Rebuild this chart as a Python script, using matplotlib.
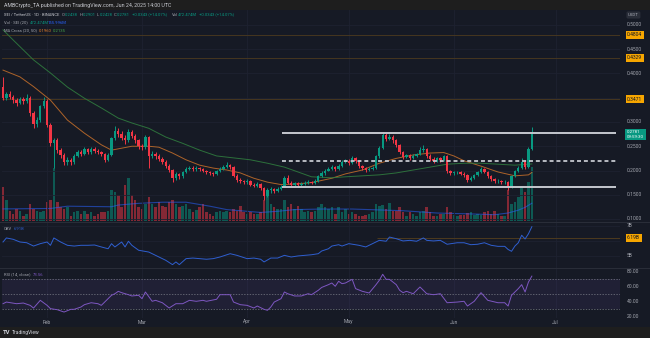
import matplotlib
matplotlib.use("Agg")
import matplotlib.pyplot as plt
from matplotlib.lines import Line2D
import numpy as np
import pandas as pd

plt.rcParams['font.family'] = ['Roboto', 'DejaVu Sans']

# ---- data (SEI/USDT daily, Binance) ----
start = pd.Timestamp('2025-01-19')
open0 = 0.372
close = [0.350, 0.358, 0.352, 0.346, 0.340, 0.347, 0.343, 0.350, 0.318, 0.296,
         0.305, 0.332, 0.344, 0.294, 0.256, 0.262, 0.242, 0.232, 0.218, 0.222,
         0.217, 0.230, 0.238, 0.234, 0.244, 0.238, 0.245, 0.241, 0.238, 0.233,
         0.222, 0.232, 0.266, 0.282, 0.276, 0.268, 0.262, 0.280, 0.272, 0.262,
         0.250, 0.248, 0.270, 0.230, 0.234, 0.229, 0.224, 0.218, 0.210, 0.201,
         0.184, 0.192, 0.188, 0.197, 0.204, 0.206, 0.203, 0.206, 0.203, 0.199,
         0.196, 0.194, 0.192, 0.199, 0.204, 0.208, 0.211, 0.207, 0.189, 0.181,
         0.178, 0.176, 0.178, 0.171, 0.168, 0.172, 0.163, 0.148, 0.160, 0.161,
         0.158, 0.162, 0.167, 0.185, 0.175, 0.171, 0.174, 0.171, 0.173, 0.175,
         0.177, 0.175, 0.179, 0.188, 0.194, 0.200, 0.204, 0.207, 0.204, 0.210,
         0.218, 0.220, 0.216, 0.225, 0.219, 0.209, 0.205, 0.201, 0.204, 0.205,
         0.229, 0.247, 0.274, 0.265, 0.270, 0.262, 0.253, 0.239, 0.228, 0.231,
         0.226, 0.230, 0.234, 0.242, 0.245, 0.230, 0.224, 0.220, 0.225, 0.221,
         0.229, 0.198, 0.194, 0.196, 0.197, 0.193, 0.190, 0.180, 0.185, 0.190,
         0.197, 0.203, 0.197, 0.188, 0.182, 0.178, 0.179, 0.176, 0.177, 0.166,
         0.188, 0.198, 0.205, 0.218, 0.208, 0.2438, 0.2781]
high = [0.392, 0.362, 0.364, 0.356, 0.350, 0.351, 0.352, 0.357, 0.353, 0.322,
        0.310, 0.336, 0.352, 0.347, 0.298, 0.268, 0.266, 0.247, 0.236, 0.228,
        0.226, 0.233, 0.242, 0.242, 0.248, 0.247, 0.249, 0.248, 0.244, 0.241,
        0.236, 0.236, 0.270, 0.291, 0.288, 0.282, 0.274, 0.286, 0.284, 0.276,
        0.265, 0.255, 0.274, 0.272, 0.240, 0.238, 0.233, 0.228, 0.221, 0.214,
        0.204, 0.196, 0.195, 0.200, 0.208, 0.210, 0.209, 0.209, 0.208, 0.206,
        0.202, 0.199, 0.197, 0.202, 0.207, 0.212, 0.218, 0.214, 0.209, 0.192,
        0.184, 0.181, 0.182, 0.180, 0.174, 0.176, 0.174, 0.166, 0.163, 0.166,
        0.164, 0.165, 0.170, 0.188, 0.190, 0.178, 0.177, 0.176, 0.176, 0.178,
        0.180, 0.179, 0.183, 0.191, 0.198, 0.203, 0.207, 0.211, 0.209, 0.213,
        0.221, 0.224, 0.223, 0.229, 0.227, 0.221, 0.212, 0.207, 0.207, 0.209,
        0.232, 0.251, 0.278, 0.278, 0.276, 0.273, 0.265, 0.255, 0.241, 0.235,
        0.234, 0.233, 0.237, 0.248, 0.252, 0.247, 0.233, 0.227, 0.228, 0.228,
        0.232, 0.231, 0.201, 0.199, 0.200, 0.199, 0.196, 0.192, 0.188, 0.193,
        0.200, 0.207, 0.206, 0.199, 0.190, 0.184, 0.182, 0.181, 0.180, 0.179,
        0.191, 0.202, 0.209, 0.226, 0.221, 0.248, 0.2901]
low = [0.345, 0.346, 0.348, 0.340, 0.334, 0.337, 0.338, 0.340, 0.312, 0.288,
       0.290, 0.300, 0.328, 0.290, 0.250, 0.205, 0.236, 0.226, 0.212, 0.212,
       0.212, 0.214, 0.227, 0.230, 0.231, 0.235, 0.235, 0.237, 0.234, 0.229,
       0.218, 0.219, 0.230, 0.262, 0.270, 0.262, 0.255, 0.259, 0.266, 0.257,
       0.245, 0.243, 0.245, 0.205, 0.225, 0.224, 0.219, 0.213, 0.205, 0.196,
       0.176, 0.180, 0.183, 0.185, 0.194, 0.201, 0.199, 0.200, 0.199, 0.196,
       0.192, 0.190, 0.188, 0.190, 0.197, 0.202, 0.205, 0.203, 0.186, 0.177,
       0.174, 0.172, 0.173, 0.168, 0.165, 0.166, 0.160, 0.140, 0.145, 0.153,
       0.154, 0.156, 0.160, 0.166, 0.172, 0.168, 0.169, 0.168, 0.169, 0.171,
       0.173, 0.172, 0.173, 0.177, 0.186, 0.191, 0.198, 0.202, 0.200, 0.202,
       0.208, 0.215, 0.212, 0.214, 0.216, 0.205, 0.202, 0.197, 0.199, 0.201,
       0.203, 0.226, 0.244, 0.260, 0.262, 0.257, 0.248, 0.235, 0.224, 0.225,
       0.222, 0.223, 0.227, 0.232, 0.239, 0.226, 0.220, 0.216, 0.217, 0.218,
       0.219, 0.195, 0.190, 0.191, 0.193, 0.190, 0.187, 0.176, 0.178, 0.183,
       0.188, 0.195, 0.194, 0.185, 0.179, 0.175, 0.175, 0.173, 0.173, 0.160,
       0.164, 0.186, 0.196, 0.203, 0.204, 0.206, 0.2428]
# volume in millions
volume = [303, 182, 91, 61, 106, 91, 45, 61, 151, 106,
          91, 76, 91, 166, 182, 469, 166, 121, 106, 121,
          45, 76, 91, 61, 91, 61, 76, 45, 61, 76,
          76, 85, 272, 257, 227, 121, 318, 378, 227, 182,
          121, 106, 151, 212, 151, 121, 166, 136, 121, 166,
          188, 151, 121, 136, 151, 106, 76, 97, 121, 151,
          76, 61, 45, 76, 85, 76, 91, 76, 106, 91,
          136, 76, 61, 76, 61, 61, 76, 182, 242, 151,
          121, 106, 106, 188, 121, 151, 106, 136, 106, 76,
          85, 76, 91, 121, 145, 121, 106, 121, 61, 121,
          76, 106, 61, 76, 61, 45, 45, 54, 61, 76,
          145, 136, 142, 106, 157, 91, 85, 121, 76, 45,
          76, 61, 45, 76, 85, 121, 76, 45, 45, 61,
          61, 127, 76, 54, 45, 54, 54, 67, 76, 51,
          61, 54, 76, 91, 61, 91, 61, 45, 45, 272,
          151, 166, 212, 303, 257, 340, 472.474]

volma_day = [0, 14, 19, 32, 34, 40, 47, 54, 61, 66, 76, 81, 86, 94, 103, 113, 118, 128, 138, 145, 149, 152, 154, 156]
volma = [106, 110, 130, 125, 140, 155, 165, 165, 130, 100, 75, 85, 100, 105, 105, 95, 90, 70, 62, 55, 70, 95, 120, 156]

ma20_day = [0, 5, 9, 14, 19, 24, 29, 32, 35, 38, 43, 46, 50, 54, 58, 62, 66, 70, 74, 78,
            82, 86, 91, 97, 101, 106, 111, 116, 121, 126, 130, 133, 136, 141, 146, 151, 155, 156]
ma20 = [0.407, 0.393, 0.373, 0.345, 0.304, 0.277, 0.253, 0.242, 0.246, 0.250,
        0.250, 0.248, 0.236, 0.222, 0.211, 0.205, 0.201, 0.195, 0.184, 0.176,
        0.171, 0.172, 0.175, 0.184, 0.193, 0.201, 0.215, 0.225, 0.232, 0.236,
        0.237, 0.230, 0.220, 0.209, 0.197, 0.189, 0.191, 0.196]
ma50_day = [0, 3, 9, 14, 19, 24, 29, 34, 38, 43, 48, 53, 58, 63, 68, 73, 78, 83, 87, 91,
            97, 101, 106, 111, 116, 121, 126, 131, 136, 141, 146, 151, 156]
ma50 = [0.490, 0.469, 0.428, 0.401, 0.372, 0.349, 0.329, 0.308, 0.298, 0.287,
        0.269, 0.256, 0.242, 0.230, 0.226, 0.222, 0.215, 0.207, 0.197, 0.187,
        0.185, 0.187, 0.189, 0.191, 0.195, 0.201, 0.207, 0.213, 0.215, 0.215,
        0.213, 0.211, 0.2135]

# OBV in billions
obv_day = [0, 1, 3, 5, 7, 9, 11, 13, 14, 15, 17, 19, 21, 23, 25, 27, 29, 31, 32, 33,
           35, 36, 37, 38, 40, 43, 44, 46, 48, 50, 51, 52, 54, 56, 58, 60, 62, 64, 67, 69,
           72, 74, 76, 77, 79, 81, 83, 85, 87, 89, 91, 93, 94, 96, 97, 99, 100, 102, 105, 107,
           109, 111, 113, 114, 116, 118, 120, 122, 124, 125, 127, 129, 131, 134, 136, 138, 140, 142, 144, 146,
           148, 149, 150, 151, 152, 153, 154, 155, 156]
obv = [5.90, 6.17, 6.08, 5.90, 5.85, 5.63, 5.79, 5.90, 5.68, 6.17,
       5.90, 5.68, 5.63, 5.68, 5.68, 5.70, 5.57, 5.45, 5.79, 5.57,
       5.90, 5.57, 5.95, 5.68, 5.35, 5.23, 5.12, 4.90, 4.68, 4.39,
       4.57, 4.39, 4.79, 4.83, 4.79, 4.75, 4.79, 4.90, 5.12, 5.01,
       4.79, 4.83, 4.75, 4.57, 4.83, 4.83, 5.01, 4.90, 4.97, 5.01,
       5.05, 5.12, 5.30, 5.45, 5.63, 5.72, 5.63, 5.79, 5.68, 5.57,
       5.79, 6.01, 5.95, 6.23, 6.12, 5.97, 6.01, 5.95, 6.17, 6.01,
       5.97, 6.01, 5.75, 5.85, 5.85, 5.72, 5.75, 5.85, 5.68, 5.61,
       5.61, 5.40, 5.28, 5.63, 5.85, 6.35, 6.10, 6.45, 6.92]

rsi_day = [0, 1, 4, 6, 8, 9, 11, 13, 14, 16, 18, 20, 21, 23, 24, 26, 28, 29, 32, 33,
           34, 35, 37, 38, 40, 41, 42, 44, 45, 47, 49, 51, 53, 55, 57, 59, 60, 63, 64, 67,
           68, 70, 72, 74, 75, 77, 78, 79, 80, 82, 83, 84, 86, 88, 90, 91, 93, 94, 96, 97,
           98, 99, 100, 101, 103, 104, 106, 108, 110, 111, 112, 113, 114, 116, 117, 118, 119, 121, 123, 125,
           127, 129, 131, 134, 136, 137, 139, 141, 143, 146, 148, 149, 150, 152, 153, 154, 155, 156]
rsi = [36.8, 39.0, 36.8, 37.7, 34.6, 31.0, 41.3, 34.6, 30.2, 28.8,
       25.7, 29.3, 29.3, 32.4, 35.5, 38.1, 36.8, 34.6, 48.0, 50.1,
       53.3, 51.5, 48.8, 47.1, 48.0, 43.5, 52.4, 40.0, 41.3, 38.1,
       31.1, 36.8, 36.8, 41.3, 40.0, 41.3, 40.0, 42.7, 48.8, 48.8,
       39.0, 35.5, 34.6, 31.1, 33.7, 29.3, 28.0, 32.4, 39.0, 43.5,
       52.4, 50.1, 47.1, 47.1, 50.1, 48.8, 54.7, 58.5, 62.2, 64.4,
       60.0, 66.7, 63.5, 64.4, 69.3, 56.9, 53.3, 51.1, 62.0, 68.0,
       76.0, 69.3, 69.3, 62.2, 54.7, 51.5, 53.3, 50.1, 59.1, 50.1,
       48.8, 50.1, 38.1, 39.0, 40.0, 33.7, 40.0, 51.5, 41.3, 38.1,
       38.1, 33.7, 48.0, 56.9, 62.2, 52.4, 65.7, 73.56]

levels = [0.4804, 0.4329, 0.3471]
range_top, range_mid, range_bot = 0.2767, 0.2203, 0.1653
obv_level = 6.198

# ---- styling ----
W, H = 650, 338
BG = '#161a25'
STRIP = '#1e1e1e'
GRID = '#1e2230'
TXT = '#a3a6af'
UP = '#089981'
DOWN = '#f23645'
LEVEL = '#f7a600'
LEVEL_LINE = '#4d3b1e'


def box(x0, y0, x1, y1):
    return [x0 / W, 1 - y1 / H, (x1 - x0) / W, (y1 - y0) / H]


def fx(px):
    return px / W


def fy(py):
    return 1 - py / H


def py_price(p):
    return 25 + (0.5 - p) * 485


def py_obv(v):
    return 240.5 - (v - 6) * 15


def py_rsi(v):
    return 271.3 + (80 - v) * 0.75


n = len(close)
x = np.arange(n)
cls = np.array(close)
opn = np.array([open0] + close[:-1])
colors = np.where(cls >= opn, UP, DOWN)

fig = plt.figure(figsize=(W / 100, H / 100), dpi=100)
fig.patch.set_facecolor(STRIP)
bg = fig.add_axes(box(0, 10, 650, 327))
bg.set_facecolor(BG)
bg.set_xticks([])
bg.set_yticks([])
for s in bg.spines.values():
    s.set_visible(False)

XL = (-0.3, 182.0)
vax = fig.add_axes(box(2, 10, 620, 222))
ax = fig.add_axes(box(2, 10, 620, 222))
oax = fig.add_axes(box(2, 222, 620, 268))
rax = fig.add_axes(box(2, 268, 620, 318))
for a in (vax, ax, oax, rax):
    a.set_xlim(*XL)
    a.axis('off')
ax.set_ylim(0.5 - (222 - 25) / 485, 0.5 - (10 - 25) / 485)
vax.set_ylim(-9, 1855)
oax.set_ylim(6 + (240.5 - 268) / 15, 6 + (240.5 - 222) / 15)
rax.set_ylim(80 - (318 - 271.3) / 0.75, 80 - (268 - 271.3) / 0.75)

# month positions
months = pd.date_range('2025-02-01', '2025-07-01', freq='MS')
mpos = (months - start).days

# grid
for m in mpos:
    for a in (ax, oax, rax):
        a.axvline(m, color=GRID, lw=0.6, zorder=0)
for p in np.arange(0.10, 0.51, 0.05):
    ax.axhline(p, color=GRID, lw=0.6, zorder=0)
for v in (5, 6, 7):
    oax.axhline(v, color=GRID, lw=0.6, zorder=0)

# volume
vax.bar(x, volume, width=0.75, color=colors, alpha=0.5, lw=0)
vax.plot(volma_day, volma, color='#2962ff', lw=0.8, alpha=0.55)

# horizontal levels
for lv in levels:
    ax.axhline(lv, color=LEVEL_LINE, lw=0.6, zorder=1)

# candles
ax.vlines(x, low, high, colors=colors, lw=0.7, zorder=3)
ax.bar(x, np.maximum(np.abs(cls - opn), 0.0012), bottom=np.minimum(cls, opn),
       width=0.7, color=colors, lw=0, zorder=3)

# moving averages
ax.plot(ma20_day, ma20, color='#c8702a', lw=0.7, alpha=0.85, zorder=2)
ax.plot(ma50_day, ma50, color='#2f7a3e', lw=0.7, alpha=0.9, zorder=2)

# range lines
x0r, x1r = 82.2, 180.9
ax.hlines([range_top, range_bot], x0r, x1r, color='#c4c7ce', lw=1.4, zorder=4)
ax.hlines(range_mid, x0r, x1r, color='#c4c7ce', lw=1.3, linestyles=(0, (2.2, 1.6)), zorder=4)

# OBV
oax.hlines(obv_level, 110.4, XL[1], color=LEVEL_LINE, lw=0.7)
oax.plot(obv_day, obv, color='#2f5fd0', lw=0.7)

# RSI
rax.fill_between(XL, 30, 70, color='#7e57c2', alpha=0.1, lw=0)
for lvl in (70, 50, 30):
    rax.axhline(lvl, color='#787b86', lw=0.5, ls=(0, (2, 2)))
rax.plot(rsi_day, rsi, color='#7e57c2', lw=0.7)

# pane separators
for yy in (222, 268):
    fig.add_artist(Line2D([0, 1], [fy(yy), fy(yy)], color='#2a2e39', lw=0.7))

# right axis labels
fs = 3.6
for p in np.arange(0.10, 0.51, 0.05):
    if abs(p - 0.35) < 1e-6:
        continue
    fig.text(fx(627), fy(py_price(p)), f'{p:.4f}', fontsize=fs, color=TXT, va='center')
for lv in levels:
    fig.text(fx(627), fy(py_price(lv)), f'{lv:.4f}', fontsize=fs, color='#131722', va='center',
             bbox=dict(boxstyle='square,pad=0.3', fc=LEVEL, ec='none'))
fig.text(fx(627), fy(134.5), '0.2781\n09:59:30', fontsize=3.2, color='white', va='center',
         linespacing=1.2, bbox=dict(boxstyle='square,pad=0.35', fc=UP, ec='none'))
fig.text(fx(628), fy(15), 'USDT', fontsize=3.2, color=TXT, va='center',
         bbox=dict(boxstyle='round,pad=0.35', fc='#2a2e39', ec='none'))
for v in (7, 5):
    fig.text(fx(627), fy(py_obv(v)), f'{v}B', fontsize=fs, color=TXT, va='center')
fig.text(fx(627), fy(py_obv(obv_level)), '6.19B', fontsize=fs, color='#131722', va='center',
         bbox=dict(boxstyle='square,pad=0.3', fc=LEVEL, ec='none'))
for v in (80, 60, 40, 20):
    fig.text(fx(627), fy(py_rsi(v)), f'{v:.2f}', fontsize=fs, color=TXT, va='center')

# time axis
for m, d in zip(mpos, months):
    fig.text(fx(2 + (m - XL[0]) / (XL[1] - XL[0]) * 618), fy(322), d.strftime('%b'),
             fontsize=fs, color=TXT, ha='center', va='center')

# title and legends
fig.text(fx(4), fy(5.5), 'AMBCrypto_TA published on TradingView.com, Jun 24, 2025 14:00 UTC',
         fontsize=3.8, color='#c9cbd1', va='center')
lf = 3.0
y1, y2, y3 = 14.5, 22.5, 30.5
fig.text(fx(4), fy(y1), 'SEI / TetherUS · 1D · BINANCE', fontsize=lf, color='#c9cbd1', va='center')
for px_, lab, val in ((62, 'O', '0.2438'), (80, 'H', '0.2901'), (97, 'L', '0.2428'), (114, 'C', '0.2781')):
    fig.text(fx(px_), fy(y1), lab, fontsize=lf, color=TXT, va='center')
    fig.text(fx(px_ + 3), fy(y1), val, fontsize=lf, color=UP, va='center')
fig.text(fx(132), fy(y1), '+0.0343 (+14.07%)', fontsize=lf, color=UP, va='center')
fig.text(fx(172), fy(y1), 'Vol', fontsize=lf, color=TXT, va='center')
fig.text(fx(178), fy(y1), '472.474M', fontsize=lf, color=UP, va='center')
fig.text(fx(199), fy(y1), '+0.0343 (+14.07%)', fontsize=lf, color=UP, va='center')
fig.text(fx(4), fy(y2), 'Vol · SEI (20)', fontsize=lf, color=TXT, va='center')
fig.text(fx(30), fy(y2), '472.474M', fontsize=lf, color=UP, va='center')
fig.text(fx(48), fy(y2), '155.996M', fontsize=lf, color='#2962ff', va='center')
fig.text(fx(4), fy(y3), 'MA Cross (20, 50)', fontsize=lf, color=TXT, va='center')
fig.text(fx(39), fy(y3), '0.1960', fontsize=lf, color='#e07b2a', va='center')
fig.text(fx(53), fy(y3), '0.2135', fontsize=lf, color='#43a047', va='center')
fig.text(fx(4), fy(228.5), 'OBV', fontsize=lf, color=TXT, va='center')
fig.text(fx(14), fy(228.5), '6.91B', fontsize=lf, color='#2f5fd0', va='center')
fig.text(fx(4), fy(274.5), 'RSI (14, close)', fontsize=lf, color=TXT, va='center')
fig.text(fx(33), fy(274.5), '73.56', fontsize=lf, color='#7e57c2', va='center')

# footer logo
fig.text(fx(3), fy(332.5), 'TV', fontsize=4.2, fontweight='bold', color='#d1d4dc', va='center')
fig.text(fx(12), fy(332.5), 'TradingView', fontsize=3.6, color='#d1d4dc', va='center')

fig.savefig('out.png', dpi=100, facecolor=fig.get_facecolor())
